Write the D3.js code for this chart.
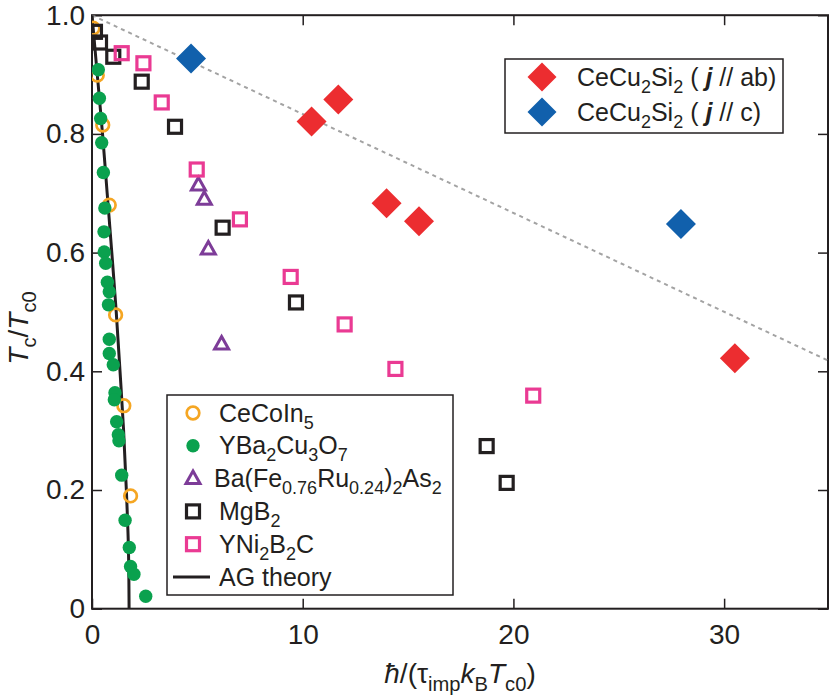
<!DOCTYPE html>
<html>
  <head>
    <meta charset="utf-8">
    <title>Tc vs pair breaking</title>
    <style media="screen">
    body{margin: 0; background: #fff}
    svg text {font-family: "Liberation Sans", Arial, Helvetica, sans-serif; fill: #231f20}
    </style>
  </head>
  <body>
    <script src="https://d3js.org/d3.v7.min.js"></script>
    <script type="text/javascript">
      // values: [hbar/(tau kB Tc0), Tc/Tc0]
      var ceCoIn5 = [[0.05,0.978],[0.25,0.899],[0.51,0.815],[0.82,0.680],[1.12,0.495],[1.51,0.342],[1.83,0.190]]
      var yba2cu3o7 = [[0.30,0.908],[0.35,0.860],[0.41,0.826],[0.46,0.785],[0.54,0.735],[0.61,0.675],[0.57,0.635],
        [0.58,0.601],[0.65,0.582],[0.73,0.550],[0.82,0.534],[0.78,0.512],[0.82,0.454],[0.82,0.430],[1.01,0.411],
        [1.09,0.364],[1.06,0.352],[1.17,0.315],[1.25,0.293],[1.28,0.283],[1.41,0.225],[1.57,0.149],[1.77,0.103],
        [1.83,0.071],[1.99,0.058],[2.55,0.021]]
      var bafe = [[5.05,0.714],[5.33,0.690],[5.52,0.606],[6.15,0.446]]
      var mgb2 = [[0.14,0.972],[0.38,0.954],[1.01,0.930],[2.36,0.888],[3.94,0.812],[6.20,0.642],[9.68,0.516],[18.73,0.274],[19.68,0.212]]
      var yni2b2c = [[1.41,0.936],[2.44,0.919],[3.31,0.853],[4.97,0.740],[7.02,0.656],[9.43,0.559],[11.99,0.479],[14.40,0.404],[20.94,0.359]]
      var ceCuAB = [[10.42,0.821],[11.69,0.858],[13.98,0.683],[15.52,0.653],[30.51,0.422]]
      var ceCuC = [[4.70,0.927],[27.95,0.648]]
      var agTheory = [[0,1],[0.25,0.9],[0.50,0.8],[0.72,0.7],[0.94,0.6],[1.15,0.5],[1.33,0.4],[1.50,0.3],[1.63,0.2],[1.73,0.1],[1.76,0]]
      var guide = [[0,1],[35,0.417]]

      var xTicks = [0,10,20,30]
      var yTicks = [0,0.2,0.4,0.6,0.8,1.0]

      var w = 830, h = 699
      var col = {orange:'#f5a623', green:'#0aa14e', purple:'#7d3c98', black:'#231f20', pink:'#ea3a93', red:'#ec2d30', blue:'#1160ac'}

      var x = d3.scaleLinear().domain([0, 34.93]).range([92, 828])
      var y = d3.scaleLinear().domain([0, 1]).range([608.7, 15.2])

      var svg = d3.select('body').append('svg')
        .attr('width', w)
        .attr('height', h)

      svg.append('defs').append('clipPath').attr('id', 'clip')
        .append('rect').attr('x', x.range()[0]).attr('y', y.range()[1])
        .attr('width', x.range()[1] - x.range()[0]).attr('height', y.range()[0] - y.range()[1])

      // axes, ticks pointing inward on all four sides
      function styleAxis(g){
        g.select('.domain').remove()
        g.selectAll('line').attr('stroke', col.black).attr('stroke-width', 1.5)
        g.selectAll('text').attr('font-size', 28).attr('fill', col.black)
          .attr('font-family', '"Liberation Sans", Arial, sans-serif')
      }
      svg.append('g').attr('transform', 'translate(0,' + y(0) + ')')
        .call(d3.axisBottom(x).tickValues(xTicks).tickSizeInner(-10).tickSizeOuter(0).tickPadding(15).tickFormat(d3.format('d')))
        .call(styleAxis)
      svg.append('g').attr('transform', 'translate(0,' + y(1) + ')')
        .call(d3.axisTop(x).tickValues(xTicks).tickSizeInner(-10).tickSizeOuter(0).tickFormat(''))
        .call(styleAxis)
      svg.append('g').attr('transform', 'translate(' + x(0) + ',0)')
        .call(d3.axisLeft(y).tickValues(yTicks).tickSizeInner(-10).tickSizeOuter(0).tickPadding(7)
          .tickFormat(function(d){ return d === 0 ? '0' : d3.format('.1f')(d) }))
        .call(styleAxis)
      svg.append('g').attr('transform', 'translate(' + x.range()[1] + ',0)')
        .call(d3.axisRight(y).tickValues(yTicks).tickSizeInner(-10).tickSizeOuter(0).tickFormat(''))
        .call(styleAxis)

      svg.append('rect')
        .attr('x', x.range()[0]).attr('y', y.range()[1])
        .attr('width', x.range()[1] - x.range()[0]).attr('height', y.range()[0] - y.range()[1])
        .attr('fill', 'none').attr('stroke', col.black).attr('stroke-width', 2)

      var line = d3.line().x(function(d){ return x(d[0]) }).y(function(d){ return y(d[1]) })
      var plot = svg.append('g').attr('clip-path', 'url(#clip)')

      plot.append('path').datum(guide).attr('d', line)
        .attr('fill', 'none').attr('stroke', '#a3a3a3').attr('stroke-width', 2).attr('stroke-dasharray', '4,4')
      plot.append('path').datum(agTheory).attr('d', line.curve(d3.curveMonotoneY))
        .attr('fill', 'none').attr('stroke', col.black).attr('stroke-width', 3)

      // marker painters
      var markers = {
        circle: function(g){ g.append('circle').attr('r', 6.3).attr('fill', 'none').attr('stroke', col.orange).attr('stroke-width', 2.7) },
        dot: function(g){ g.append('circle').attr('r', 6.7).attr('fill', col.green) },
        tri: function(g){ g.append('path').attr('d', 'M0,-7.5L7,5L-7,5Z').attr('fill', 'none').attr('stroke', col.purple).attr('stroke-width', 3) },
        sqBlack: function(g){ g.append('rect').attr('x', -6.5).attr('y', -6.5).attr('width', 13).attr('height', 13).attr('fill', 'none').attr('stroke', col.black).attr('stroke-width', 3.2) },
        sqPink: function(g){ g.append('rect').attr('x', -6.5).attr('y', -6.5).attr('width', 13).attr('height', 13).attr('fill', 'none').attr('stroke', col.pink).attr('stroke-width', 3.2) },
        diaRed: function(g, s){ s = s || 15; g.append('path').attr('d', 'M0,' + (-s) + 'L' + s + ',0L0,' + s + 'L' + (-s) + ',0Z').attr('fill', col.red) },
        diaBlue: function(g, s){ s = s || 15; g.append('path').attr('d', 'M0,' + (-s) + 'L' + s + ',0L0,' + s + 'L' + (-s) + ',0Z').attr('fill', col.blue) }
      }

      function scatter(data, kind){
        plot.append('g').selectAll('g').data(data).enter().append('g')
          .attr('transform', function(d){ return 'translate(' + x(d[0]) + ',' + y(d[1]) + ')' })
          .each(function(){ markers[kind](d3.select(this)) })
      }
      scatter(ceCoIn5, 'circle')
      scatter(yba2cu3o7, 'dot')
      scatter(bafe, 'tri')
      scatter(mgb2, 'sqBlack')
      scatter(yni2b2c, 'sqPink')
      scatter(ceCuAB, 'diaRed')
      scatter(ceCuC, 'diaBlue')

      // rich text: parts of [text, style]; style n | i | bi | sub
      function rich(t, parts, size){
        var off = 0
        parts.forEach(function(p){
          var s = t.append('tspan').text(p[0])
          var want = p[1] === 'sub' ? size * 0.28 : 0
          if (want !== off) { s.attr('dy', want - off); off = want }
          if (p[1] === 'sub') s.attr('font-size', size * 0.72)
          if (p[1] === 'i' || p[1] === 'bi') s.attr('font-style', 'italic')
          if (p[1] === 'bi') s.attr('font-weight', 'bold')
        })
        return t
      }

      // axis titles
      rich(svg.append('text').attr('font-size', 28).attr('text-anchor', 'middle')
        .attr('transform', 'translate(28,' + 328 + ') rotate(-90)'),
        [['T','i'],['c','sub'],['/',''],['T','i'],['c0','sub']], 28)
      rich(svg.append('text').attr('font-size', 28).attr('text-anchor', 'middle')
        .attr('x', 460).attr('y', 683),
        [['ħ','i'],['/(τ',''],['imp','sub'],['k','i'],['B','sub'],['T','i'],['c0','sub'],[')','']], 28)

      // legend for the reference materials
      var legend1 = [
        {kind:'circle', parts:[['CeCoIn',''],['5','sub']]},
        {kind:'dot', parts:[['YBa',''],['2','sub'],['Cu',''],['3','sub'],['O',''],['7','sub']]},
        {kind:'tri', parts:[['Ba(Fe',''],['0.76','sub'],['Ru',''],['0.24','sub'],[')',''],['2','sub'],['As',''],['2','sub']]},
        {kind:'sqBlack', parts:[['MgB',''],['2','sub']]},
        {kind:'sqPink', parts:[['YNi',''],['2','sub'],['B',''],['2','sub'],['C','']]},
        {kind:'line', parts:[['AG theory','']]}
      ]
      var lg1 = svg.append('g')
      lg1.append('rect').attr('x', 167).attr('y', 395).attr('width', 286).attr('height', 200)
        .attr('fill', '#fff').attr('stroke', col.black).attr('stroke-width', 1.5)
      legend1.forEach(function(item, i){
        var cy = 413 + i * 32.8
        var g = lg1.append('g').attr('transform', 'translate(193,' + cy + ')')
        if (item.kind === 'line') {
          g.append('line').attr('x1', -20).attr('x2', 17).attr('stroke', col.black).attr('stroke-width', 3)
        } else {
          markers[item.kind](g)
        }
        rich(lg1.append('text').attr('font-size', 25).attr('x', item.kind === 'tri' ? 214 : 219).attr('y', cy + 8.5), item.parts, 25)
      })

      // legend for CeCu2Si2
      var legend2 = [
        {kind:'diaRed', parts:[['CeCu',''],['2','sub'],['Si',''],['2','sub'],[' ( ',''],['j','bi'],[' // ab)','']]},
        {kind:'diaBlue', parts:[['CeCu',''],['2','sub'],['Si',''],['2','sub'],[' ( ',''],['j','bi'],[' // c)','']]}
      ]
      var lg2 = svg.append('g')
      lg2.append('rect').attr('x', 505).attr('y', 59).attr('width', 278).attr('height', 74)
        .attr('fill', '#fff').attr('stroke', col.black).attr('stroke-width', 1.5)
      legend2.forEach(function(item, i){
        var cy = 77 + i * 35
        markers[item.kind](lg2.append('g').attr('transform', 'translate(542,' + cy + ')'), 14.5)
        rich(lg2.append('text').attr('font-size', 25).attr('x', 577).attr('y', cy + 8.5), item.parts, 25)
      })
    </script>
  </body>
</html>
